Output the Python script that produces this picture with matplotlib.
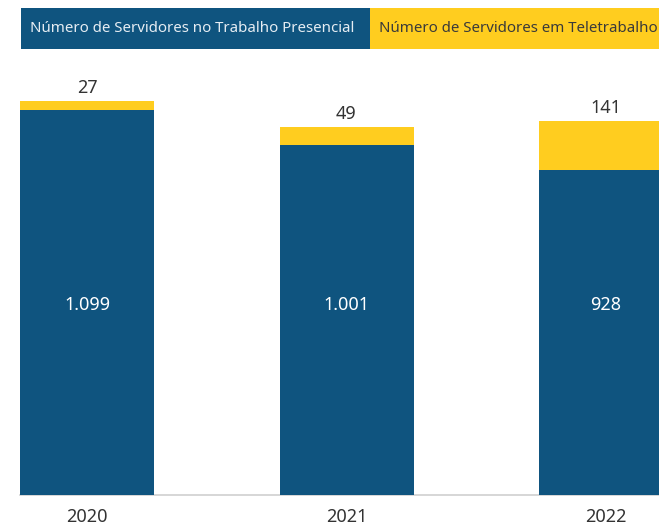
import numpy as np
import matplotlib.pyplot as plt
from matplotlib.patches import Rectangle

plt.rcParams['font.family'] = ['Noto Sans', 'DejaVu Sans']

years = ['2020', '2021', '2022']
presencial = [1099, 1001, 928]
teletrabalho = [27, 49, 141]
presencial_labels = ['1.099', '1.001', '928']
teletrabalho_labels = ['27', '49', '141']
legend_labels = ['Número de Servidores no Trabalho Presencial',
                 'Número de Servidores em Teletrabalho']

blue = '#0f547f'
yellow = '#ffcd1f'

W, H = 659, 525
fig = plt.figure(figsize=(W / 100, H / 100), dpi=100)

# axes: baseline at y=495 px, bar pitch ~259.5 px, first centre at x=87
pitch = 259.5
x0 = 87
ax = fig.add_axes([0, (H - 495) / H, 1, (495 - 60) / H])
x = np.arange(len(years))
width = 134 / pitch
ax.set_xlim(-x0 / pitch, (W - x0) / pitch)
ax.set_ylim(0, (495 - 60) / 0.35)

ax.bar(x, presencial, width, color=blue, zorder=3)
ax.bar(x, teletrabalho, width, bottom=presencial, color=yellow, zorder=3)

# inner labels sit on one common line, outer labels just above each stack
inner_y = (495 - 305) / (495 - 60)
for i in range(len(years)):
    ax.text(x[i], inner_y, presencial_labels[i], ha='center', va='center',
            color='white', fontsize=13, transform=ax.get_xaxis_transform())
    ax.text(x[i], presencial[i] + teletrabalho[i] + 12, teletrabalho_labels[i],
            ha='center', va='bottom', color='#333333', fontsize=13)

for s in ['top', 'right', 'left']:
    ax.spines[s].set_visible(False)
ax.spines['bottom'].set_color('#d0d0d0')
ax.spines['bottom'].set_linewidth(1.2)
ax.spines['bottom'].set_bounds(-x0 / pitch + 20 / pitch, (W - x0) / pitch)
ax.set_yticks([])
ax.set_xticks(x)
ax.set_xticklabels(years, fontsize=13, color='#333333')
ax.tick_params(axis='x', length=0, pad=9)

# legend as two coloured boxes across the top
boxes = [(21, 370, blue, '#e6edf3'), (370, 659, yellow, '#3a3a3a')]
for (left, right, fc, tc), label in zip(boxes, legend_labels):
    fig.patches.append(Rectangle((left / W, (H - 49) / H), (right - left) / W, 41 / H,
                                 transform=fig.transFigure, facecolor=fc, edgecolor='none'))
    fig.text((left + 9) / W, (H - 28.5) / H, label, ha='left', va='center',
             color=tc, fontsize=10.8)

plt.savefig('out.png', dpi=100)
